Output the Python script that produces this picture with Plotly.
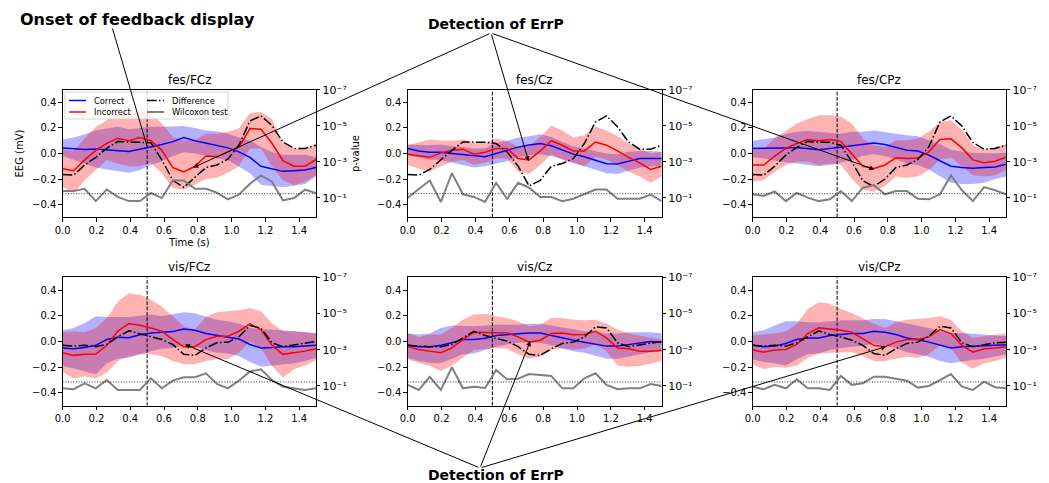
import plotly.graph_objects as go

# ---------------- data ----------------
TIME = [0.0, 0.065, 0.13, 0.196, 0.261, 0.326, 0.391, 0.457, 0.522, 0.587, 0.652, 0.717,
        0.783, 0.848, 0.913, 0.978, 1.043, 1.109, 1.174, 1.239, 1.304, 1.37, 1.435, 1.5]

PANELS = ["fes/FCz", "fes/Cz", "fes/CPz", "vis/FCz", "vis/Cz", "vis/CPz"]

CORRECT_MEAN = {
    "fes/FCz": [0.044, 0.036, 0.031, 0.036, 0.03, 0.02, 0.015, 0.034, 0.05, 0.07, 0.093, 0.125, 0.10, 0.083, 0.062, 0.044, 0.013, -0.03, -0.10, -0.12, -0.14, -0.135, -0.13, -0.11],
    "fes/Cz": [0.04, 0.02, 0.01, 0.01, 0.0, -0.01, -0.02, -0.025, 0.0, 0.025, 0.05, 0.067, 0.078, 0.06, 0.025, -0.005, -0.025, -0.05, -0.08, -0.083, -0.06, -0.04, -0.04, -0.04],
    "fes/CPz": [0.04, 0.04, 0.04, 0.044, 0.047, 0.04, 0.03, 0.04, 0.05, 0.065, 0.073, 0.083, 0.07, 0.05, 0.025, 0.02, -0.013, -0.057, -0.1, -0.11, -0.115, -0.11, -0.105, -0.085],
    "vis/FCz": [-0.05, -0.057, -0.047, -0.03, 0.015, 0.034, 0.03, 0.052, 0.067, 0.072, 0.077, 0.098, 0.088, 0.062, 0.046, 0.036, 0.02, -0.023, -0.05, -0.047, -0.04, -0.04, -0.036, -0.03],
    "vis/Cz": [-0.03, -0.04, -0.04, -0.03, -0.01, 0.015, 0.015, 0.026, 0.046, 0.054, 0.062, 0.067, 0.067, 0.046, 0.028, 0.01, -0.005, -0.02, -0.036, -0.036, -0.023, -0.01, 0.0, -0.005],
    "vis/CPz": [-0.03, -0.04, -0.036, -0.015, 0.015, 0.028, 0.028, 0.046, 0.054, 0.062, 0.062, 0.08, 0.072, 0.054, 0.028, 0.015, -0.005, -0.03, -0.05, -0.04, -0.036, -0.03, -0.03, -0.026],
}
CORRECT_HIGH = {
    "fes/FCz": [0.11, 0.125, 0.15, 0.18, 0.195, 0.21, 0.19, 0.2, 0.21, 0.21, 0.21, 0.215, 0.2, 0.18, 0.175, 0.155, 0.125, 0.1, 0.05, 0.01, -0.01, -0.01, -0.01, -0.03],
    "fes/Cz": [0.07, 0.065, 0.065, 0.07, 0.057, 0.05, 0.04, 0.04, 0.083, 0.1, 0.125, 0.135, 0.15, 0.13, 0.09, 0.057, 0.04, 0.02, 0.0, -0.005, 0.013, 0.02, 0.02, 0.013],
    "fes/CPz": [0.1, 0.11, 0.125, 0.155, 0.17, 0.177, 0.17, 0.165, 0.155, 0.17, 0.17, 0.18, 0.17, 0.155, 0.143, 0.135, 0.104, 0.073, 0.03, 0.013, 0.005, 0.0, 0.0, 0.005],
    "vis/FCz": [0.088, 0.105, 0.145, 0.196, 0.19, 0.19, 0.19, 0.2, 0.21, 0.196, 0.21, 0.227, 0.22, 0.196, 0.17, 0.157, 0.14, 0.105, 0.093, 0.093, 0.088, 0.08, 0.072, 0.062],
    "vis/Cz": [0.062, 0.054, 0.062, 0.106, 0.124, 0.119, 0.119, 0.124, 0.13, 0.13, 0.13, 0.139, 0.139, 0.124, 0.11, 0.093, 0.08, 0.072, 0.062, 0.062, 0.072, 0.072, 0.072, 0.062],
    "vis/CPz": [0.072, 0.088, 0.124, 0.157, 0.157, 0.15, 0.15, 0.157, 0.165, 0.165, 0.165, 0.175, 0.175, 0.157, 0.139, 0.124, 0.106, 0.08, 0.067, 0.067, 0.062, 0.054, 0.046, 0.041],
}
CORRECT_LOW = {
    "fes/FCz": [-0.02, -0.05, -0.08, -0.11, -0.125, -0.14, -0.15, -0.13, -0.09, -0.06, -0.02, 0.01, 0.0, -0.015, -0.04, -0.05, -0.1, -0.155, -0.245, -0.255, -0.265, -0.255, -0.24, -0.18],
    "fes/Cz": [-0.013, -0.03, -0.047, -0.05, -0.067, -0.09, -0.11, -0.1, -0.078, -0.06, -0.03, -0.013, -0.005, -0.02, -0.047, -0.073, -0.1, -0.125, -0.155, -0.16, -0.135, -0.11, -0.1, -0.1],
    "fes/CPz": [-0.03, -0.04, -0.057, -0.073, -0.083, -0.09, -0.1, -0.09, -0.073, -0.05, -0.02, -0.005, -0.02, -0.047, -0.078, -0.09, -0.125, -0.18, -0.23, -0.24, -0.24, -0.23, -0.2, -0.18],
    "vis/FCz": [-0.19, -0.21, -0.23, -0.255, -0.17, -0.134, -0.126, -0.1, -0.075, -0.057, -0.05, -0.03, -0.04, -0.067, -0.088, -0.093, -0.113, -0.16, -0.196, -0.19, -0.178, -0.17, -0.152, -0.126],
    "vis/Cz": [-0.126, -0.152, -0.165, -0.17, -0.134, -0.1, -0.093, -0.067, -0.04, -0.023, -0.01, -0.005, -0.01, -0.03, -0.057, -0.075, -0.088, -0.113, -0.134, -0.134, -0.119, -0.1, -0.083, -0.075],
    "vis/CPz": [-0.139, -0.16, -0.17, -0.186, -0.139, -0.1, -0.093, -0.067, -0.05, -0.04, -0.036, -0.015, -0.03, -0.05, -0.083, -0.1, -0.119, -0.152, -0.17, -0.16, -0.145, -0.134, -0.119, -0.1],
}
INCORRECT_MEAN = {
    "fes/FCz": [-0.12, -0.135, -0.05, 0.025, 0.08, 0.12, 0.1, 0.125, 0.1, 0.025, -0.11, -0.145, -0.1, -0.02, -0.025, 0.013, 0.05, 0.195, 0.19, 0.08, -0.057, -0.1, -0.1, -0.047],
    "fes/Cz": [-0.005, -0.02, -0.03, 0.005, 0.025, 0.034, -0.005, 0.01, 0.04, 0.04, -0.04, -0.05, 0.02, 0.1, 0.065, 0.02, 0.02, 0.09, 0.065, 0.02, -0.03, -0.073, -0.125, -0.1],
    "fes/CPz": [-0.09, -0.09, -0.02, 0.04, 0.078, 0.11, 0.1, 0.11, 0.095, 0.0, -0.1, -0.117, -0.09, -0.034, -0.04, -0.036, 0.013, 0.11, 0.115, 0.044, -0.05, -0.073, -0.06, -0.03],
    "vis/FCz": [-0.088, -0.108, -0.1, -0.098, -0.03, 0.08, 0.14, 0.126, 0.105, 0.08, 0.015, -0.04, -0.04, 0.015, 0.04, 0.04, 0.08, 0.137, 0.093, -0.03, -0.1, -0.088, -0.075, -0.057],
    "vis/Cz": [-0.04, -0.062, -0.075, -0.088, -0.05, 0.015, 0.072, 0.072, 0.072, 0.067, 0.036, -0.005, 0.01, 0.062, 0.067, 0.052, 0.054, 0.08, 0.028, -0.05, -0.057, -0.075, -0.075, -0.07],
    "vis/CPz": [-0.067, -0.083, -0.067, -0.062, -0.023, 0.062, 0.106, 0.098, 0.088, 0.072, 0.021, -0.03, -0.04, -0.005, 0.015, 0.015, 0.036, 0.093, 0.062, -0.03, -0.083, -0.057, -0.05, -0.04],
}
INCORRECT_HIGH = {
    "fes/FCz": [0.03, 0.02, 0.12, 0.21, 0.26, 0.32, 0.325, 0.33, 0.31, 0.235, 0.13, 0.1, 0.105, 0.155, 0.155, 0.17, 0.195, 0.317, 0.325, 0.27, 0.08, 0.04, 0.04, 0.065],
    "fes/Cz": [0.065, 0.09, 0.11, 0.1, 0.1, 0.11, 0.083, 0.083, 0.117, 0.1, 0.05, 0.057, 0.13, 0.22, 0.18, 0.125, 0.143, 0.21, 0.18, 0.135, 0.078, 0.04, 0.0, 0.013],
    "fes/CPz": [0.025, 0.04, 0.117, 0.18, 0.235, 0.27, 0.3, 0.3, 0.29, 0.235, 0.117, 0.065, 0.05, 0.104, 0.104, 0.117, 0.17, 0.247, 0.26, 0.187, 0.065, 0.03, 0.052, 0.07],
    "vis/FCz": [0.072, 0.08, 0.072, 0.105, 0.183, 0.31, 0.376, 0.364, 0.325, 0.273, 0.196, 0.119, 0.093, 0.19, 0.227, 0.235, 0.243, 0.26, 0.235, 0.145, 0.08, 0.08, 0.072, 0.067],
    "vis/Cz": [0.067, 0.036, 0.054, 0.054, 0.106, 0.17, 0.21, 0.217, 0.196, 0.183, 0.157, 0.119, 0.13, 0.183, 0.183, 0.17, 0.165, 0.17, 0.139, 0.093, 0.062, 0.046, 0.036, 0.015],
    "vis/CPz": [0.046, 0.054, 0.062, 0.08, 0.139, 0.253, 0.305, 0.294, 0.253, 0.222, 0.183, 0.139, 0.106, 0.15, 0.17, 0.175, 0.183, 0.196, 0.17, 0.08, 0.028, 0.041, 0.054, 0.062],
}
INCORRECT_LOW = {
    "fes/FCz": [-0.26, -0.31, -0.21, -0.13, -0.05, -0.08, -0.1, -0.1, -0.075, -0.155, -0.27, -0.285, -0.245, -0.2, -0.19, -0.15, -0.1, 0.04, 0.04, -0.1, -0.21, -0.25, -0.22, -0.17],
    "fes/Cz": [-0.09, -0.117, -0.143, -0.1, -0.065, -0.05, -0.09, -0.073, -0.04, -0.04, -0.143, -0.16, -0.09, -0.005, -0.047, -0.073, -0.1, -0.025, -0.047, -0.09, -0.143, -0.18, -0.23, -0.18],
    "fes/CPz": [-0.22, -0.21, -0.143, -0.09, -0.065, -0.065, -0.09, -0.078, -0.09, -0.2, -0.285, -0.3, -0.255, -0.18, -0.19, -0.18, -0.13, -0.047, -0.034, -0.1, -0.17, -0.18, -0.17, -0.13],
    "vis/FCz": [-0.237, -0.289, -0.27, -0.289, -0.243, -0.152, -0.113, -0.1, -0.1, -0.113, -0.152, -0.178, -0.178, -0.152, -0.139, -0.139, -0.088, 0.0, -0.05, -0.19, -0.28, -0.217, -0.186, -0.147],
    "vis/Cz": [-0.139, -0.165, -0.19, -0.23, -0.186, -0.126, -0.067, -0.057, -0.05, -0.057, -0.1, -0.134, -0.119, -0.062, -0.05, -0.062, -0.057, -0.023, -0.075, -0.186, -0.196, -0.19, -0.17, -0.152],
    "vis/CPz": [-0.178, -0.217, -0.196, -0.204, -0.186, -0.126, -0.093, -0.088, -0.083, -0.083, -0.113, -0.152, -0.152, -0.134, -0.119, -0.126, -0.1, -0.03, -0.057, -0.165, -0.212, -0.17, -0.152, -0.126],
}
DIFFERENCE = {
    "fes/FCz": [-0.165, -0.17, -0.09, -0.03, 0.04, 0.095, 0.09, 0.09, 0.085, -0.05, -0.21, -0.265, -0.19, -0.11, -0.09, -0.045, 0.065, 0.255, 0.295, 0.22, 0.09, 0.04, 0.04, 0.065],
    "fes/Cz": [-0.165, -0.17, -0.125, -0.05, 0.025, 0.09, 0.09, 0.088, 0.078, 0.013, -0.1, -0.255, -0.21, -0.1, -0.078, -0.04, 0.078, 0.247, 0.295, 0.21, 0.09, 0.034, 0.034, 0.065],
    "fes/CPz": [-0.165, -0.17, -0.1, -0.013, 0.047, 0.095, 0.088, 0.088, 0.065, -0.065, -0.213, -0.26, -0.2, -0.11, -0.09, -0.047, 0.052, 0.247, 0.295, 0.215, 0.086, 0.034, 0.04, 0.065],
    "vis/FCz": [-0.03, -0.036, -0.03, -0.04, -0.023, 0.036, 0.083, 0.062, 0.041, 0.015, -0.023, -0.1, -0.108, -0.05, -0.01, -0.005, 0.036, 0.124, 0.105, -0.01, -0.04, -0.026, -0.01, 0.0],
    "vis/Cz": [-0.03, -0.036, -0.04, -0.04, -0.023, 0.028, 0.08, 0.046, 0.026, 0.003, -0.04, -0.1, -0.108, -0.057, -0.015, -0.005, 0.036, 0.114, 0.106, -0.01, -0.04, -0.026, -0.01, 0.0],
    "vis/CPz": [-0.03, -0.036, -0.03, -0.036, -0.01, 0.036, 0.083, 0.054, 0.036, 0.01, -0.03, -0.093, -0.108, -0.057, -0.015, -0.005, 0.041, 0.119, 0.106, -0.01, -0.04, -0.026, -0.01, -0.005],
}
WILCOXON_P = {
    "fes/FCz": [0.043, 0.043, 0.032, 0.155, 0.035, 0.091, 0.155, 0.155, 0.055, 0.105, 0.011, 0.011, 0.032, 0.032, 0.052, 0.123, 0.068, 0.017, 0.0058, 0.013, 0.141, 0.105, 0.036, 0.055],
    "fes/Cz": [0.1, 0.032, 0.011, 0.174, 0.0043, 0.065, 0.091, 0.174, 0.015, 0.115, 0.015, 0.028, 0.091, 0.091, 0.155, 0.115, 0.065, 0.035, 0.035, 0.115, 0.115, 0.115, 0.068, 0.155],
    "fes/CPz": [0.065, 0.081, 0.045, 0.155, 0.055, 0.1, 0.155, 0.123, 0.043, 0.155, 0.028, 0.020, 0.065, 0.043, 0.043, 0.115, 0.123, 0.065, 0.0058, 0.039, 0.155, 0.026, 0.039, 0.065],
    "vis/FCz": [0.135, 0.151, 0.071, 0.135, 0.047, 0.166, 0.166, 0.166, 0.038, 0.135, 0.051, 0.033, 0.033, 0.020, 0.078, 0.135, 0.051, 0.016, 0.012, 0.047, 0.110, 0.135, 0.166, 0.135],
    "vis/Cz": [0.087, 0.166, 0.031, 0.166, 0.0093, 0.135, 0.110, 0.129, 0.013, 0.043, 0.040, 0.022, 0.025, 0.028, 0.135, 0.135, 0.038, 0.020, 0.087, 0.151, 0.135, 0.135, 0.078, 0.1],
    "vis/CPz": [0.110, 0.151, 0.087, 0.135, 0.043, 0.135, 0.135, 0.166, 0.028, 0.087, 0.071, 0.031, 0.031, 0.038, 0.051, 0.123, 0.1, 0.047, 0.022, 0.110, 0.166, 0.058, 0.117, 0.135],
}
P_THRESHOLD = 0.06
ONSET_TIME = 0.5
P_TICKS = [1e-7, 1e-5, 1e-3, 1e-1]
P_TICK_TEXT = ["10\u207b\u2077", "10\u207b\u2075", "10\u207b\u00b3", "10\u207b\u00b9"]
LEGEND_ITEMS = [("Correct", "#0000ff", "solid"), ("Incorrect", "#ff0000", "solid"),
                ("Difference", "black", "9.6px,2.4px,1.5px,2.4px"), ("Wilcoxon test", "#808080", "solid")]
# arrow targets (time, EEG value) for "Detection of ErrP" callouts
ERRP_TARGETS = {
    "fes/FCz": (0.773, -0.11), "fes/Cz": (0.714, -0.06), "fes/CPz": (0.72, -0.125),
    "vis/FCz": (0.724, -0.023), "vis/Cz": (0.724, 0.003), "vis/CPz": (0.79, -0.04),
}
ONSET_TARGET = ("fes/FCz", 0.5, 0.055)

# ---------------- layout geometry (pixels) ----------------
W, H = 1049, 483
COLS = [(62.7, 316.0), (407.7, 661.7), (752.7, 1006.0)]
ROWS = [(89.7, 217.3), (277.3, 405.7)]
YR = (-0.5, 0.5)
XR = (0.0, 1.5)
PLOG = (0.09, -7)

FONT = "DejaVu Sans"
BLUE = "#0000ff"
RED = "#ff0000"
GRAY = "#808080"
DASHDOT = "9.6px,2.4px,1.5px,2.4px"

fig = go.Figure()
layout = dict(width=W, height=H, margin=dict(l=0, r=0, t=0, b=0),
              paper_bgcolor="white", plot_bgcolor="white",
              font=dict(family=FONT, size=10, color="black"),
              showlegend=False)
annotations = []
shapes = []


def px_of(k, t, v):
    c = COLS[k % 3]
    r = ROWS[k // 3]
    x = c[0] + (t - XR[0]) / (XR[1] - XR[0]) * (c[1] - c[0])
    y = r[0] + (YR[1] - v) / (YR[1] - YR[0]) * (r[1] - r[0])
    return x, y


for k, name in enumerate(PANELS):
    c = COLS[k % 3]
    r = ROWS[k // 3]
    xi = k + 1
    yl = 2 * k + 1
    yr = 2 * k + 2
    xs = "x" if xi == 1 else f"x{xi}"
    yls = "y" if yl == 1 else f"y{yl}"
    yrs = f"y{yr}"
    xdom = [c[0] / W, c[1] / W]
    ydom = [1 - r[1] / H, 1 - r[0] / H]
    first = (k == 0)

    # bands
    fig.add_trace(go.Scatter(x=TIME + TIME[::-1], y=CORRECT_HIGH[name] + CORRECT_LOW[name][::-1],
                             fill="toself", fillcolor="rgba(0,0,255,0.3)", line=dict(width=0),
                             mode="lines", hoverinfo="skip", xaxis=xs, yaxis=yls))
    fig.add_trace(go.Scatter(x=TIME + TIME[::-1], y=INCORRECT_HIGH[name] + INCORRECT_LOW[name][::-1],
                             fill="toself", fillcolor="rgba(255,0,0,0.3)", line=dict(width=0),
                             mode="lines", hoverinfo="skip", xaxis=xs, yaxis=yls))
    # onset line
    fig.add_trace(go.Scatter(x=[ONSET_TIME, ONSET_TIME], y=list(YR), mode="lines",
                             line=dict(color="black", width=1, dash="3.7px,1.6px"),
                             hoverinfo="skip", xaxis=xs, yaxis=yls))
    fig.add_trace(go.Scatter(x=TIME, y=CORRECT_MEAN[name], mode="lines", name="Correct",
                             line=dict(color=BLUE, width=1.5), xaxis=xs, yaxis=yls))
    fig.add_trace(go.Scatter(x=TIME, y=INCORRECT_MEAN[name], mode="lines", name="Incorrect",
                             line=dict(color=RED, width=1.5), xaxis=xs, yaxis=yls))
    fig.add_trace(go.Scatter(x=TIME, y=DIFFERENCE[name], mode="lines", name="Difference",
                             line=dict(color="black", width=1.5, dash=DASHDOT), xaxis=xs, yaxis=yls))
    # p-value axis
    fig.add_trace(go.Scatter(x=TIME, y=WILCOXON_P[name], mode="lines", name="Wilcoxon test",
                             line=dict(color=GRAY, width=2), xaxis=xs, yaxis=yrs))
    fig.add_trace(go.Scatter(x=list(XR), y=[P_THRESHOLD, P_THRESHOLD], mode="lines",
                             line=dict(color="black", width=0.8, dash="1px,1.65px"),
                             hoverinfo="skip", xaxis=xs, yaxis=yrs))

    axcommon = dict(showgrid=False, zeroline=False, showline=True, linecolor="black",
                    linewidth=0.8, ticks="outside", ticklen=3.5, tickwidth=0.8,
                    tickcolor="black", tickfont=dict(size=10, family=FONT, color="black"),
                    automargin=False)
    xa = dict(axcommon, domain=xdom, anchor=yls, range=list(XR), mirror=True,
              tickvals=[0.0, 0.2, 0.4, 0.6, 0.8, 1.0, 1.2, 1.4], tickformat=".1f")
    ya = dict(axcommon, domain=ydom, anchor=xs, range=list(YR),
              tickvals=[-0.4, -0.2, 0.0, 0.2, 0.4], tickformat=".1f")
    ya2 = dict(axcommon, anchor=xs, overlaying=yls, side="right", type="log", range=list(PLOG),
               tickvals=P_TICKS, ticktext=P_TICK_TEXT, tickfont=dict(size=11, family=FONT, color="black"))
    if first:
        xa["title"] = dict(text="Time (s)", font=dict(size=10), standoff=4)
        ya["title"] = dict(text="EEG (mV)", font=dict(size=10), standoff=6)
        ya2["title"] = dict(text="p-value", font=dict(size=10), standoff=6)
    layout["xaxis" if xi == 1 else f"xaxis{xi}"] = xa
    layout["yaxis" if yl == 1 else f"yaxis{yl}"] = ya
    layout[f"yaxis{yr}"] = ya2

    # subplot title
    annotations.append(dict(text=name, xref="paper", yref="paper",
                            x=(xdom[0] + xdom[1]) / 2, y=ydom[1], xanchor="center",
                            yanchor="bottom", yshift=1, showarrow=False,
                            font=dict(size=12, family=FONT)))

# legend box drawn inside first panel
LEG_BOX = (65, 92, 228, 119)
shapes.append(dict(type="rect", xref="paper", yref="paper", layer="above",
                   x0=LEG_BOX[0] / W, x1=LEG_BOX[2] / W, y0=1 - LEG_BOX[3] / H, y1=1 - LEG_BOX[1] / H,
                   fillcolor="rgba(255,255,255,0.8)", line=dict(color="#cccccc", width=0.8)))
LEG_COLS = [69, 147]
LEG_ROWS = [100.5, 112]
for i, (label, color, dash) in enumerate(LEGEND_ITEMS):
    cx = LEG_COLS[i // 2]
    cy = LEG_ROWS[i % 2]
    shapes.append(dict(type="line", xref="paper", yref="paper", layer="above",
                       x0=cx / W, x1=(cx + 17) / W, y0=1 - cy / H, y1=1 - cy / H,
                       line=dict(color=color, width=2 if label == "Wilcoxon test" else 1.5, dash=dash)))
    annotations.append(dict(text=label, xref="paper", yref="paper", x=(cx + 23) / W, y=1 - cy / H,
                            xanchor="left", yanchor="middle", showarrow=False,
                            font=dict(size=8.3, family=FONT)))

# big callout labels
TOP_APEX = (491, 33)
BOT_APEX = (480, 468)
annotations.append(dict(text="<b>Onset of feedback display</b>", xref="paper", yref="paper",
                        x=18 / W, y=1 - 19 / H, xanchor="left", yanchor="middle",
                        showarrow=False, font=dict(size=16, family=FONT)))
annotations.append(dict(text="<b>Detection of ErrP</b>", xref="paper", yref="paper",
                        x=496 / W, y=1 - 24 / H, xanchor="center", yanchor="middle",
                        showarrow=False, font=dict(size=14, family=FONT)))
annotations.append(dict(text="<b>Detection of ErrP</b>", xref="paper", yref="paper",
                        x=496 / W, y=1 - 475 / H, xanchor="center", yanchor="middle",
                        showarrow=False, font=dict(size=14, family=FONT)))


def arrow(k, t, v, tail, head=2):
    hx, hy = px_of(k, t, v)
    xi = k + 1
    yl = 2 * k + 1
    return dict(text="", x=t, y=v, xref="x" if xi == 1 else f"x{xi}",
                yref="y" if yl == 1 else f"y{yl}", axref="pixel", ayref="pixel",
                ax=tail[0] - hx, ay=tail[1] - hy, showarrow=True, arrowhead=head,
                arrowsize=1, arrowwidth=1, arrowcolor="black", standoff=0, startstandoff=0)


for k, name in enumerate(PANELS):
    t, v = ERRP_TARGETS[name]
    annotations.append(arrow(k, t, v, TOP_APEX if k < 3 else BOT_APEX))
annotations.append(arrow(PANELS.index(ONSET_TARGET[0]), ONSET_TARGET[1], ONSET_TARGET[2],
                         (112, 27), head=0))

layout["annotations"] = annotations
layout["shapes"] = shapes
fig.update_layout(layout)
fig.write_html("out.html", config={"displayModeBar": False},
               post_script="document.body.style.margin='0';document.body.style.overflow='hidden';")
